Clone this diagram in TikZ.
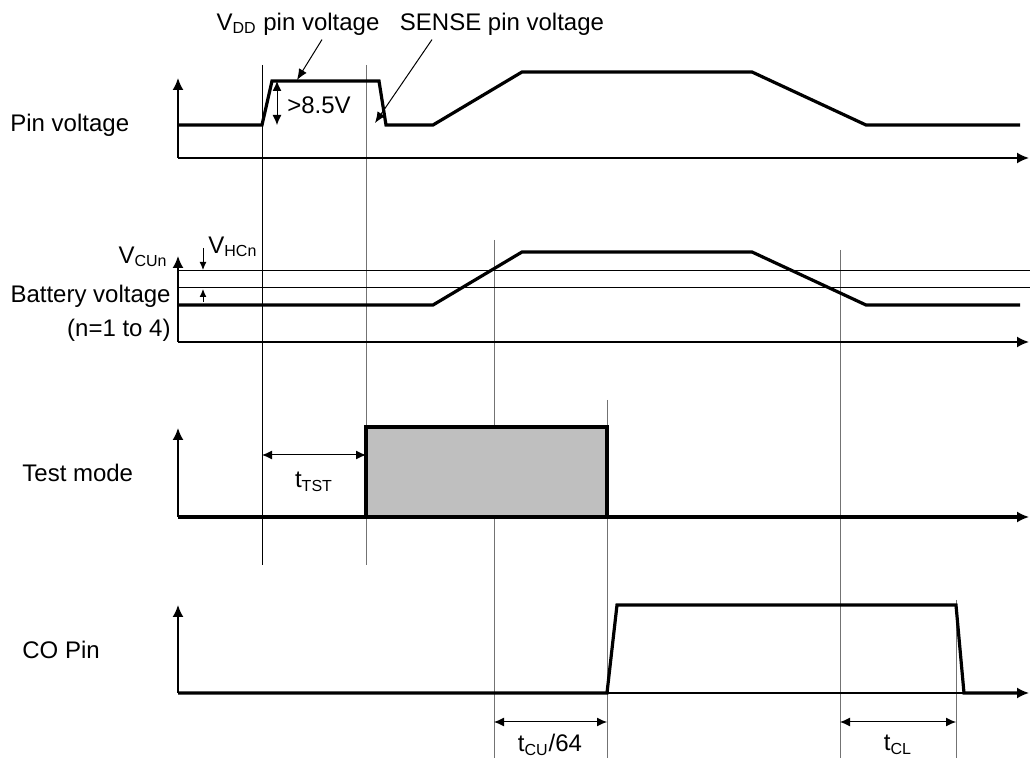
\documentclass[tikz,border=0pt]{standalone}
\usepackage{fontspec}
\setmainfont{Liberation Sans}
\usetikzlibrary{arrows.meta}
\tikzset{
  sig/.style={line width=1.6pt},
  guide/.style={line width=0.5pt, black!55},
  axisline/.style={line width=0.9pt, -{Latex[length=6pt,width=5.5pt]}},
  dimarrow/.style={line width=0.5pt, {Latex[length=5pt,width=4.5pt]}-{Latex[length=5pt,width=4.5pt]}},
  callout/.style={line width=0.5pt, -{Latex[length=5.5pt,width=4.5pt]}},
  smallarrow/.style={line width=0.5pt, -{Latex[length=4pt,width=3.5pt]}},
  lbl/.style={inner sep=0pt, font=\fontsize{12}{14}\selectfont}
}
\begin{document}
\begin{tikzpicture}[x=0.5pt,y=-0.5pt]
\useasboundingbox (0,0) rectangle (1030,758);
\draw[line width=0.5pt] (262,65) -- (262,565);
\draw[guide] (366,65) -- (366,565);
\draw[guide] (494,240) -- (494,758);
\draw[guide] (607,400) -- (607,758);
\draw[guide] (840,250) -- (840,758);
\draw[guide] (956,600) -- (956,758);
\foreach \ya/\yt in {158/78, 342/256, 517/428, 693/605}{
  \draw[axisline] (178,\ya) -- (178,\yt);
  \draw[axisline] (178,\ya) -- (1029,\ya);
}
% pin voltage
\draw[sig] (178,125) -- (262,125) -- (272,81) -- (379,81) -- (386,125) -- (433,125)
  -- (522,72) -- (752,72) -- (866,125) -- (1020,125);
\draw[dimarrow] (277,81) -- (277,125);
\node[lbl] (limit) at (319,105) {>8.5V};
\node[lbl] (vdd) at (298,24) {V\textsubscript{DD} pin voltage};
\node[lbl] (sense) at (502,24) {SENSE pin voltage};
\coordinate (vddtip) at (297,80);
\coordinate (sensetip) at (375,123);
\draw[callout] ([xshift=12pt,yshift=-2pt]vdd.south) -- (vddtip);
\draw[callout] ([xshift=-35pt,yshift=-2pt]sense.south) -- (sensetip);
% battery voltage
\draw[line width=0.5pt] (178,271) -- (1030,271);
\draw[line width=0.5pt] (178,288) -- (1030,288);
\draw[sig] (178,305) -- (433,305) -- (522,252) -- (752,252) -- (866,305) -- (1020,305);
\draw[smallarrow] (203,248) -- (203,270);
\draw[smallarrow] (203,302) -- (203,289);
\node[lbl, anchor=west] (vhc) at (208,247) {V\textsubscript{HCn}};
\node[lbl, anchor=east] (vcu) at (168,257) {V\textsubscript{CUn}};
\node[lbl, anchor=east] (batt) at (171,296) {Battery voltage};
\node[lbl, anchor=east] (cells) at (171,330) {(n=1 to 4)};
% test mode
\filldraw[sig, fill=black!25] (366,517) -- (366,427) -- (607,427) -- (607,517);
\draw[sig] (178,517) -- (1020,517);
\draw[dimarrow] (262,455) -- (366,455);
\node[lbl] (ttst) at (314,482) {t\textsubscript{TST}};
% CO pin
\draw[sig] (178,693) -- (607,693) -- (617,605) -- (956,605) -- (964,693) -- (1020,693);
\draw[dimarrow] (494,722) -- (607,722);
\draw[dimarrow] (840,722) -- (956,722);
\node[lbl] (tcu) at (550,745) {t\textsubscript{CU}/64};
\node[lbl] (tcl) at (898,745) {t\textsubscript{CL}};
% row names
\node[lbl, anchor=west] (pinrow) at (10,125) {Pin voltage};
\node[lbl, anchor=west] (testrow) at (22,473) {Test mode};
\node[lbl, anchor=west] (corow) at (22,650) {CO Pin};
\end{tikzpicture}
\end{document}
